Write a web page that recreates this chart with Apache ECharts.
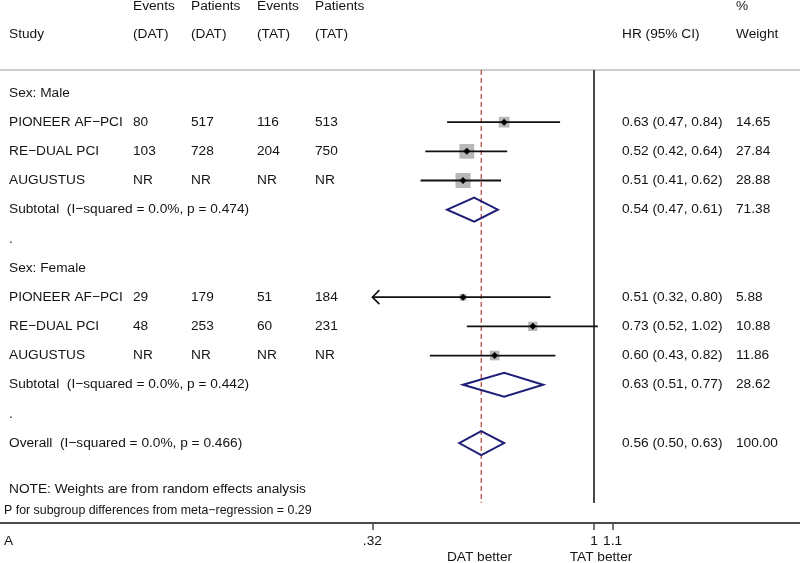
<!DOCTYPE html>
<html><head><meta charset="utf-8">
<script src="https://cdn.jsdelivr.net/npm/echarts@6/dist/echarts.min.js"></script>
<style>html,body{margin:0;padding:0;background:#fff}#c{width:800px;height:563px}</style>
</head><body><div id="c"></div>
<script>
// ---------------- DATA ----------------
const rowLabels = ['Sex: Male', 'PIONEER AF\u2212PCI', 'RE\u2212DUAL PCI', 'AUGUSTUS',
  'Subtotal  (I\u2212squared = 0.0%, p = 0.474)', '.', 'Sex: Female', 'PIONEER AF\u2212PCI',
  'RE\u2212DUAL PCI', 'AUGUSTUS', 'Subtotal  (I\u2212squared = 0.0%, p = 0.442)', '.',
  'Overall  (I\u2212squared = 0.0%, p = 0.466)'];
const rowTypes = ['group', 'study', 'study', 'study', 'subtotal', 'spacer', 'group', 'study', 'study', 'study', 'subtotal', 'spacer', 'overall'];
const eventsDAT   = ['', '80', '103', 'NR', '', '', '', '29', '48', 'NR', '', '', ''];
const patientsDAT = ['', '517', '728', 'NR', '', '', '', '179', '253', 'NR', '', '', ''];
const eventsTAT   = ['', '116', '204', 'NR', '', '', '', '51', '60', 'NR', '', '', ''];
const patientsTAT = ['', '513', '750', 'NR', '', '', '', '184', '231', 'NR', '', '', ''];
const hr     = [null, 0.63, 0.52, 0.51, 0.54, null, null, 0.51, 0.73, 0.60, 0.63, null, 0.56];
const ciLow  = [null, 0.47, 0.42, 0.41, 0.47, null, null, 0.32, 0.52, 0.43, 0.51, null, 0.50];
const ciHigh = [null, 0.84, 0.64, 0.62, 0.61, null, null, 0.80, 1.02, 0.82, 0.77, null, 0.63];
const weights = [null, 14.65, 27.84, 28.88, 71.38, null, null, 5.88, 10.88, 11.86, 28.62, null, 100.00];
const headerTop = ['', 'Events', 'Patients', 'Events', 'Patients', '', '%'];
const headerBottom = ['Study', '(DAT)', '(DAT)', '(TAT)', '(TAT)', 'HR (95% CI)', 'Weight'];
const tickValues = [0.32, 1, 1.1];
const tickLabels = ['.32', '1', '1.1'];
const overallHR = 0.56;
const nullHR = 1;
const plotMinHR = 0.32;
const noteText = 'NOTE: Weights are from random effects analysis';
const pText = 'P for subgroup differences from meta\u2212regression = 0.29';
const panelLabel = 'A';
const leftFavours = 'DAT better';
const rightFavours = 'TAT better';

// ---------------- LAYOUT ----------------
const FONT_FAMILY = '"Liberation Sans", Arial, Helvetica, sans-serif';
const FS = 13.7;
const TXT = '#141414';
const colX = [9, 133, 191, 257, 315, 622, 736];
const ROW0 = 93, PITCH = 29.17, AXIS_Y = 523, W = 800;
const PX_PER = 194.5, X_ONE = 594;
const LINE_TOP_ROW = (70 - ROW0) / PITCH, LINE_BOT_ROW = (503 - ROW0) / PITCH;

function textEl(text, x, y, size, align) {
  return {
    type: 'text', x: x, y: y, silent: true,
    style: {
      text: text, fill: TXT, font: size + 'px ' + FONT_FAMILY,
      align: align || 'left', verticalAlign: 'middle',
      textAlign: align || 'left', textVerticalAlign: 'middle'
    }
  };
}

const chart = echarts.init(document.getElementById('c'), null, { renderer: 'canvas' });

const rowIdx = rowLabels.map((_, i) => [0, i]);
const forestData = [];
rowTypes.forEach((t, i) => {
  if (hr[i] != null) forestData.push([Math.log(hr[i]), i, Math.log(ciLow[i]), Math.log(ciHigh[i]), weights[i], t === 'study' ? 0 : 1]);
});
const refData = [[Math.log(nullHR), 0], [Math.log(overallHR), 1]];

const graphics = [];
headerTop.forEach((t, k) => { if (t) graphics.push(textEl(t, colX[k], 6, FS)); });
headerBottom.forEach((t, k) => { if (t) graphics.push(textEl(t, colX[k], 34, FS)); });
graphics.push({ type: 'line', silent: true, shape: { x1: 0, y1: 70, x2: W, y2: 70 }, style: { stroke: '#cdcdcd', lineWidth: 2 } });
graphics.push(textEl(noteText, 9, 489, FS));
graphics.push(textEl(pText, 4, 511, 12.4));
graphics.push(textEl(panelLabel, 4, 541, FS));
graphics.push(textEl(leftFavours, 479.5, 557, FS, 'center'));
graphics.push(textEl(rightFavours, 601, 557, FS, 'center'));

const option = {
  animation: false,
  backgroundColor: '#ffffff',
  grid: { left: 0, right: 0, top: 0, bottom: 563 - AXIS_Y, containLabel: false, outerBoundsMode: 'none' },
  xAxis: {
    type: 'value', min: -X_ONE / PX_PER, max: (W - X_ONE) / PX_PER,
    splitLine: { show: false },
    axisLine: { show: true, onZero: false, lineStyle: { color: '#4a4a4a', width: 2 } },
    axisTick: { show: true, customValues: tickValues.map(Math.log), length: 7, lineStyle: { color: '#4a4a4a', width: 1.5 } },
    axisLabel: {
      customValues: tickValues.map(Math.log), margin: 11, fontSize: FS, color: TXT, fontFamily: FONT_FAMILY,
      formatter: function (v) {
        for (let i = 0; i < tickValues.length; i++) if (Math.abs(Math.log(tickValues[i]) - v) < 1e-6) return tickLabels[i];
        return '';
      }
    }
  },
  yAxis: { type: 'value', inverse: true, min: -ROW0 / PITCH, max: (AXIS_Y - ROW0) / PITCH, show: false },
  graphic: { elements: graphics },
  series: [
    {
      type: 'custom', name: 'table', clip: false, silent: true,
      data: rowIdx,
      renderItem: function (params, api) {
        const i = api.value(1);
        const y = api.coord([0, i])[1];
        const ch = [textEl(rowLabels[i], colX[0], y, FS)];
        const cols = [eventsDAT[i], patientsDAT[i], eventsTAT[i], patientsTAT[i]];
        cols.forEach((t, k) => { if (t) ch.push(textEl(t, colX[k + 1], y, FS)); });
        if (hr[i] != null) {
          ch.push(textEl(hr[i].toFixed(2) + ' (' + ciLow[i].toFixed(2) + ', ' + ciHigh[i].toFixed(2) + ')', colX[5], y, FS));
          ch.push(textEl(weights[i].toFixed(2), colX[6], y, FS));
        }
        return { type: 'group', children: ch };
      }
    },
    {
      type: 'custom', name: 'refs', clip: false, silent: true, z: 3,
      data: refData,
      renderItem: function (params, api) {
        const x = api.value(0), dashed = api.value(1) === 1;
        const p1 = api.coord([x, LINE_TOP_ROW]), p2 = api.coord([x, LINE_BOT_ROW]);
        return {
          type: 'line', shape: { x1: p1[0], y1: p1[1], x2: p2[0], y2: p2[1] },
          style: dashed ? { stroke: '#b5443a', lineWidth: 1.2, lineDash: [5, 3] } : { stroke: '#4a4a4a', lineWidth: 2 }
        };
      }
    },
    {
      type: 'custom', name: 'forest', clip: false, silent: true, z: 4,
      data: forestData,
      renderItem: function (params, api) {
        const row = api.value(1);
        const c = api.coord([api.value(0), row]);
        const lo = api.coord([api.value(2), row]);
        const hi = api.coord([api.value(3), row]);
        const w = api.value(4);
        if (api.value(5) === 1) {
          return {
            type: 'polygon',
            shape: { points: [[lo[0], c[1]], [c[0], c[1] - 12], [hi[0], c[1]], [c[0], c[1] + 12]] },
            style: { fill: 'none', stroke: '#1f1f78', lineWidth: 2 }
          };
        }
        const minX = api.coord([Math.log(plotMinHR), row])[0];
        const clipped = api.value(2) <= Math.log(plotMinHR) + 1e-9;
        const x0 = Math.max(lo[0], minX);
        const side = 2.8 * Math.sqrt(w);
        const ch = [
          { type: 'rect', shape: { x: c[0] - side / 2, y: c[1] - side / 2, width: side, height: side }, style: { fill: '#b8b8b8' } },
          { type: 'line', shape: { x1: x0, y1: c[1], x2: hi[0], y2: c[1] }, style: { stroke: '#111', lineWidth: 1.8 } },
          { type: 'polygon', shape: { points: [[c[0] - 3.5, c[1]], [c[0], c[1] - 3.5], [c[0] + 3.5, c[1]], [c[0], c[1] + 3.5]] }, style: { fill: '#000' } }
        ];
        if (clipped) {
          ch.push({ type: 'polyline', shape: { points: [[x0 + 7, c[1] - 7], [x0, c[1]], [x0 + 7, c[1] + 7]] }, style: { stroke: '#111', lineWidth: 1.6, fill: 'none' } });
        }
        return { type: 'group', children: ch };
      }
    }
  ]
};
chart.setOption(option);
</script></body></html>
